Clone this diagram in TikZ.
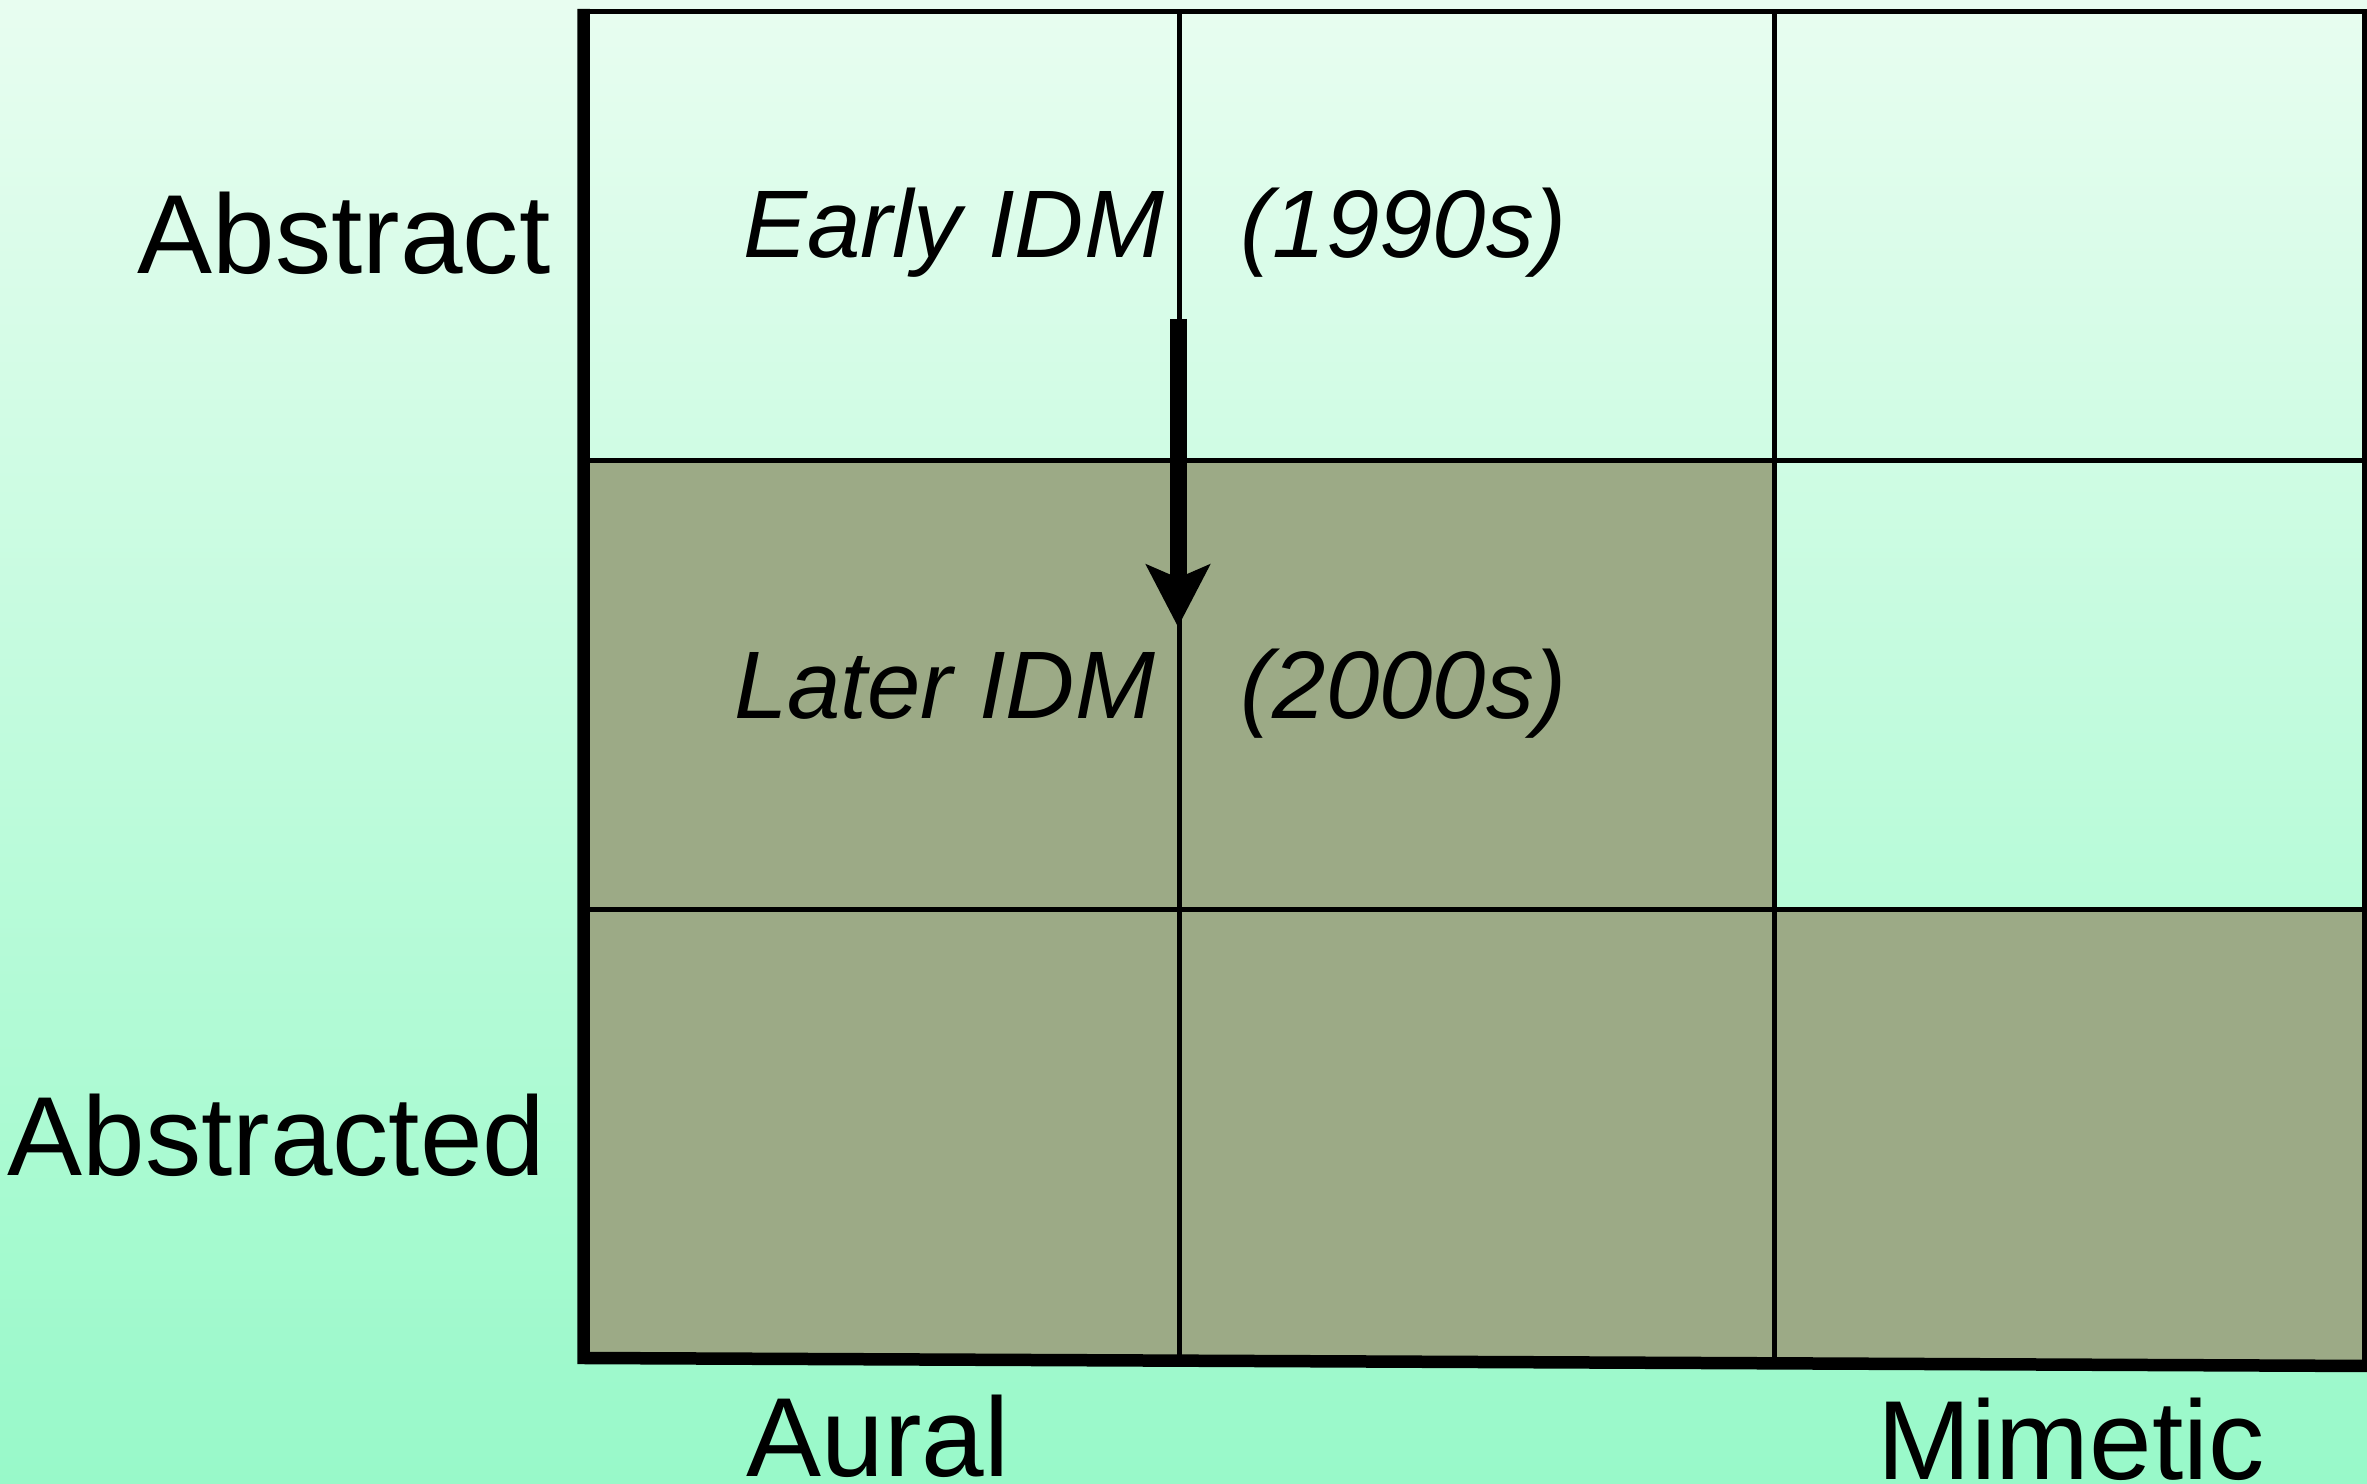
\documentclass[tikz,border=0pt]{standalone}
\usepackage{fontspec}
\setmainfont{Liberation Sans}
\usetikzlibrary{arrows.meta}

\definecolor{bgtop}{HTML}{E8FDF0}
\definecolor{bgbottom}{HTML}{98F9C9}
\definecolor{olivecell}{HTML}{9CAA86}

\begin{document}
\begin{tikzpicture}[
    gridline/.style={line width=0.05cm, black},
    axisline/.style={line width=0.125cm, black, line join=miter},
    idmarrow/.style={line width=0.17cm, black, -{Stealth[length=0.62cm, width=0.63cm, inset=0.13cm]}},
    axislabel/.style={font=\fontsize{32}{38}\selectfont, inner sep=0pt},
    idmlabel/.style={font=\fontsize{27.3}{33}\selectfont\itshape, inner sep=0pt}
  ]
  \useasboundingbox (0,0) rectangle (23.67,14.84);
  \shade[top color=bgtop, bottom color=bgbottom] (0,0) rectangle (23.67,14.84);
  % olive cells
  \fill[olivecell] (5.835,10.23) rectangle (17.74,5.74);
  \fill[olivecell] (5.835,5.74) -- (23.67,5.74) -- (23.67,1.18) -- (5.835,1.26) -- cycle;
  % grid
  \draw[gridline] (5.835,14.725) -- (23.67,14.725);
  \draw[gridline] (5.835,10.23) -- (23.67,10.23);
  \draw[gridline] (5.835,5.74) -- (23.67,5.74);
  \draw[gridline] (11.79,14.725) -- (11.79,1.22);
  \draw[gridline] (17.74,14.725) -- (17.74,1.20);
  \draw[gridline] (23.64,14.725) -- (23.64,1.18);
  % axes
  \draw[axisline] (5.835,14.75) -- (5.835,1.26) -- (23.7,1.18);
  % arrow
  \coordinate (early) at (11.78,11.65);
  \coordinate (later) at (11.78,8.57);
  \draw[idmarrow] (early) -- (later);
  % labels
  \node[axislabel, anchor=base east] (abstract) at (5.51,12.10) {Abstract};
  \node[axislabel, anchor=base east] (abstracted) at (5.46,3.08) {Abstracted};
  \node[axislabel, anchor=base] (aural) at (8.78,0.07) {Aural};
  \node[axislabel, anchor=base] (mimetic) at (20.71,0.04) {Mimetic};
  \node[idmlabel, anchor=base east] (earlyidm) at (11.65,12.26) {Early IDM};
  \node[idmlabel, anchor=base west] (nineties) at (12.40,12.26) {(1990s)};
  \node[idmlabel, anchor=base east] (lateridm) at (11.56,7.65) {Later IDM};
  \node[idmlabel, anchor=base west] (noughties) at (12.40,7.65) {(2000s)};
\end{tikzpicture}
\end{document}
